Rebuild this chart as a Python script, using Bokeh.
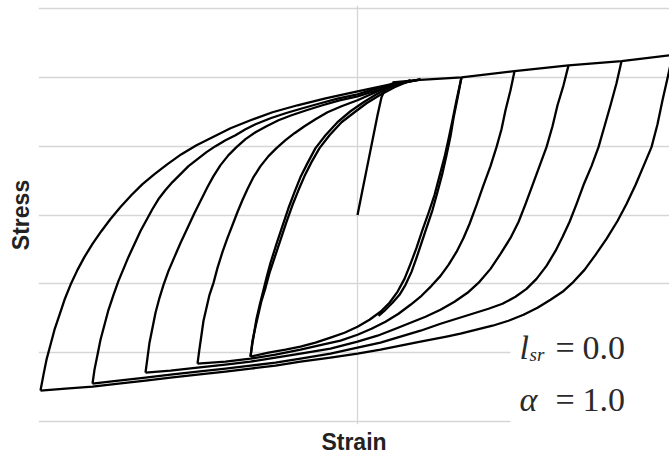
from bokeh.plotting import figure
from bokeh.models import FixedTicker, BoxAnnotation, Label
from bokeh.embed import file_html
from bokeh.resources import INLINE

# ---- data (strain, stress in chart units) ----
init_x = [0, 5, 10, 15, 20, 24, 28, 33, 38]
init_y = [0, 25, 50, 75, 100, 118, 127, 131, 133]

env_x = [35, 63, 104, 157, 211, 264, 315]
env_y = [133, 135.5, 138, 144.3, 150, 154.3, 160.5]

r1_x = [104, 99, 95, 91, 87, 82, 77, 71, 65, 59, 53, 47, 40, 32, 23, 12, 0, -13, -27, -42, -57, -72, -89, -107]
r1_y = [138, 115, 95, 76, 58, 39, 20, 2, -15, -33, -49, -64, -77, -88, -97, -105, -112, -118, -123, -128, -132, -135, -138, -142]
r1b_x = [104, 100, 96, 93, 89, 85, 80, 75, 69, 64, 59, 54, 48, 42, 35, 28, 21]
r1b_y = [138, 117, 97, 79, 60, 42, 23, 5, -13, -28, -43, -57, -70, -80, -88, -95, -101]

r2_x = [157, 153, 148, 144, 139, 133, 126, 119, 112, 106, 99, 91, 83, 74, 64, 53, 41, 28, 14, 0, -17, -35, -57, -82, -107, -132, -160]
r2_y = [144, 125, 105, 86, 68, 49, 30, 10, -9, -23, -37, -50, -61, -71, -81, -90, -99, -107, -114, -120, -126, -130, -135, -140, -144, -147, -149]

r3_x = [211, 206, 200, 195, 189, 182, 175, 168, 161, 153, 143, 133, 122, 110, 97, 83, 68, 53, 38, 20, 0, -27, -57, -82, -107, -132, -160, -187, -212]
r3_y = [150, 130, 110, 89, 68, 49, 30, 11, -7, -23, -39, -54, -67, -78, -87, -95, -102, -108, -114, -121, -127, -134, -139, -143, -147, -150, -153, -156, -158]

r4_x = [264, 259, 253, 247, 241, 234, 226, 219, 212, 205, 198, 189, 179, 169, 158, 145, 131, 115, 99, 83, 63, 43, 23, 0, -27, -57, -82, -107, -132, -160, -187, -212, -239, -265]
r4_y = [154, 132, 110, 89, 68, 49, 30, 11, -7, -22, -36, -51, -64, -74, -82, -89, -94, -99, -104, -109, -116, -122, -128, -133, -139, -144, -148, -151, -154, -157, -160, -163, -166, -169]

r5_x = [315, 310, 305, 300, 294, 286, 278, 269, 260, 249, 238, 227, 216, 205, 193, 180, 166, 151, 135, 119, 103, 89, 63, 43, 23, 0, -27, -57, -82, -107, -132, -160, -187, -212, -239, -265, -292, -317]
r5_y = [160, 137, 115, 91, 68, 49, 30, 11, -6, -24, -40, -55, -67, -77, -85, -93, -100, -106, -111, -115, -119, -122, -127, -131, -135, -139, -143, -147, -151, -154, -157, -160, -163, -166, -169, -172, -174, -176]

l1_x = [-107, -105, -103, -101, -98, -95, -91, -87, -81, -75, -69, -63, -57, -50, -42, -32, -20, -7, 6, 19, 35, 53]
l1_y = [-142, -128, -116, -104, -91, -79, -63, -48, -29, -11, 7, 23, 38, 52, 67, 80, 93, 104, 113, 121, 129, 135]
l1b_x = [-107, -105, -102, -99, -96, -92, -88, -83, -77, -71, -65, -59, -53, -46, -38, -28, -16, -3, 9, 22, 37, 53]
l1b_y = [-142, -126, -112, -99, -86, -73, -58, -43, -25, -7, 10, 25, 39, 53, 67, 80, 93, 103, 112, 120, 128, 135]

l2_x = [-160, -158, -156, -154, -151, -148, -144, -140, -135, -130, -125, -120, -115, -110, -104, -97, -89, -81, -72, -63, -53, -42, -30, -16, 0, 18, 35, 53]
l2_y = [-149, -134, -120, -106, -93, -80, -68, -53, -37, -23, -10, 3, 15, 26, 38, 49, 59, 67, 75, 82, 89, 96, 103, 109, 115, 123, 130, 135]

l3_x = [-212, -210, -208, -205, -202, -198, -194, -189, -183, -177, -170, -163, -156, -150, -144, -137, -129, -121, -112, -102, -91, -79, -66, -51, -35, -18, 0, 16, 33, 48, 63]
l3_y = [-158, -143, -128, -113, -98, -83, -70, -56, -42, -28, -13, 2, 16, 28, 39, 50, 60, 68, 76, 83, 89, 95, 100, 105, 110, 115, 119, 124, 129, 133, 136]

l4_x = [-265, -263, -260, -257, -253, -249, -244, -239, -234, -229, -223, -217, -211, -205, -199, -192, -185, -177, -169, -160, -151, -142, -132, -122, -112, -102, -87, -72, -55, -37, -19, 0, 16, 33, 48, 63]
l4_y = [-169, -155, -140, -125, -110, -95, -80, -66, -54, -42, -29, -16, -5, 6, 16, 25, 33, 41, 49, 56, 63, 69, 75, 80, 86, 91, 97, 102, 107, 112, 117, 121, 126, 130, 133, 136]

l5_x = [-317, -314, -311, -307, -303, -298, -293, -287, -280, -273, -265, -256, -247, -237, -226, -215, -203, -190, -176, -161, -145, -127, -107, -85, -60, -32, 0, 33, 63]
l5_y = [-176, -160, -145, -130, -115, -100, -85, -70, -55, -42, -29, -16, -4, 8, 20, 31, 41, 51, 61, 70, 78, 87, 95, 103, 110, 117, 124, 131, 136]

x_grid = [0]
y_grid = [-207, -138, -69, 0, 69, 138, 207]

x_label = "Strain"
y_label = "Stress"
param_sym = ["l", "α"]
param_sub = ["sr", ""]
param_val = ["0.0", "1.0"]

# ---- figure ----
p = figure(width=669, height=457, x_range=(-319, 312), y_range=(-210, 210),
           output_backend="svg", toolbar_location=None,
           min_border_left=38, min_border_right=0, min_border_top=5, min_border_bottom=32)
p.outline_line_color = None
p.background_fill_color = "white"
p.border_fill_color = "white"

for ax in (p.xaxis[0], p.yaxis[0]):
    ax.ticker = FixedTicker(ticks=[])
    ax.axis_line_color = None
    ax.major_tick_out = 0
    ax.major_tick_in = 0
    ax.minor_tick_out = 0
    ax.minor_tick_in = 0
    ax.major_label_standoff = 0
    ax.axis_label_text_font = "Liberation Sans"
    ax.axis_label_text_font_style = "bold"
    ax.axis_label_text_font_size = "23px"
    ax.axis_label_text_color = "#222222"
p.xaxis.axis_label = x_label
p.yaxis.axis_label = y_label
p.xaxis.axis_label_standoff = 4
p.yaxis.axis_label_standoff = 5

p.xgrid.ticker = FixedTicker(ticks=x_grid)
p.ygrid.ticker = FixedTicker(ticks=y_grid)
for g in (p.xgrid[0], p.ygrid[0]):
    g.grid_line_color = "#d6d6d6"
    g.grid_line_width = 1.3

# white panel behind the parameter text
p.add_layout(BoxAnnotation(left=153, top=-112, fill_color="white", fill_alpha=1.0,
                           line_color=None, level="underlay"))

branches = [
    (init_x, init_y), (env_x, env_y),
    (r1_x, r1_y), (r1b_x, r1b_y), (r2_x, r2_y), (r3_x, r3_y), (r4_x, r4_y), (r5_x, r5_y),
    (l1_x, l1_y), (l1b_x, l1b_y), (l2_x, l2_y), (l3_x, l3_y), (l4_x, l4_y), (l5_x, l5_y),
]
for bx, by in branches:
    p.line(bx, by, line_color="black", line_width=2.3, line_join="round")

# parameter annotation
tc = "#2a2a2a"
rows_y = [-133, -185]
for i in range(2):
    p.add_layout(Label(x=162, y=rows_y[i], text=param_sym[i], text_font="Liberation Serif",
                       text_font_style="italic", text_font_size="34px", text_color=tc,
                       text_baseline="alphabetic"))
    if param_sub[i]:
        p.add_layout(Label(x=172, y=rows_y[i] - 7, text=param_sub[i], text_font="Liberation Serif",
                           text_font_style="italic", text_font_size="19px", text_color=tc,
                           text_baseline="alphabetic"))
    p.add_layout(Label(x=198, y=rows_y[i], text="=", text_font="Liberation Serif",
                       text_font_size="34px", text_color=tc, text_baseline="alphabetic"))
    p.add_layout(Label(x=225, y=rows_y[i], text=param_val[i], text_font="Liberation Serif",
                       text_font_size="34px", text_color=tc, text_baseline="alphabetic"))

open("out.html", "w").write(file_html(p, INLINE))
